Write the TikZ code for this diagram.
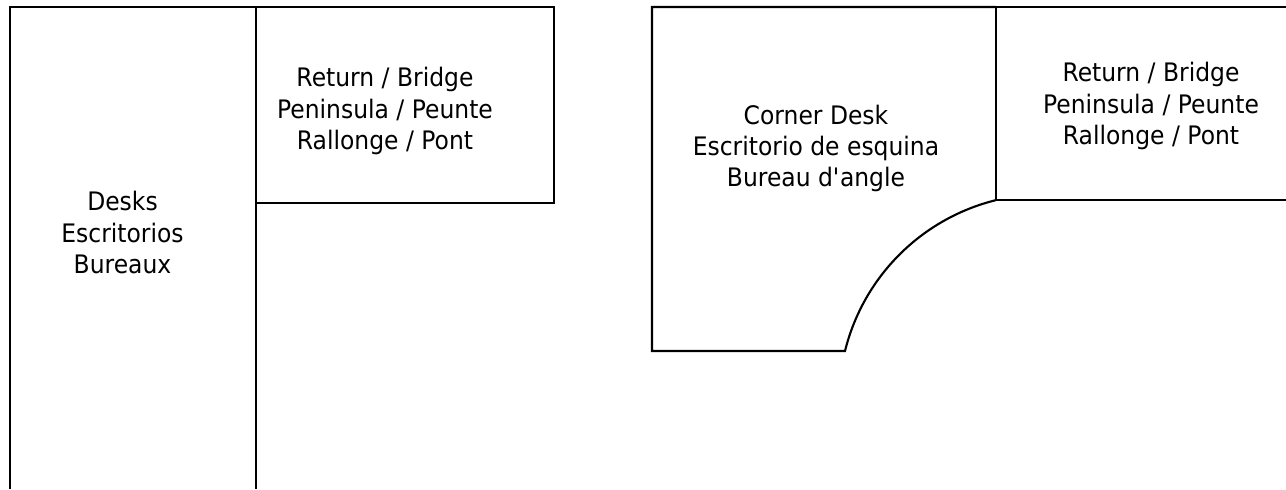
\documentclass[tikz,border=0pt]{standalone}
\usepackage{fontspec}
\setmainfont{DejaVu Sans}[FakeStretch=0.92]
\usepackage{tikz}

\begin{document}
\begin{tikzpicture}[edge/.style={line width=1.2pt, line join=miter},
        lbl/.style={align=center, inner sep=0pt, font=\fontsize{14.5}{17.9}\selectfont}]
		%\draw[help lines] (0,0) grid (26,10);
        \useasboundingbox (0,0) rectangle (25.72,9.78);

        % straight desk + return
        \draw[edge] (0.2,0) -- (0.2,9.64) -- (5.12,9.64) -- (5.12,0);
        \draw[edge] (5.12,9.64) -- (11.08,9.64) -- (11.08,5.72) -- (5.12,5.72);

        % corner desk + return
        \draw[edge] (19.92,9.64) -- (13.04,9.64) -- (13.04,2.76) -- (16.9,2.76)
            arc[start angle=166.1, end angle=103.9, radius=4.13];
        \draw[edge] (19.92,9.64) -- (19.92,5.78);
        \draw[edge] (19.92,9.64) -- (25.72,9.64);
        \draw[edge] (19.92,5.78) -- (25.72,5.78);

        \node[lbl] (desks) at (2.45,5.13){Desks\\Escritorios\\Bureaux};
        \node[lbl] (returnA) at (7.70,7.56){Return / Bridge\\Peninsula / Peunte\\Rallonge / Pont};
        \node[lbl] (corner) at (16.32,6.81){Corner Desk\\Escritorio de esquina\\Bureau d\textquotesingle angle};
        \node[lbl] (returnB) at (23.02,7.66){Return / Bridge\\Peninsula / Peunte\\Rallonge / Pont};

		\end{tikzpicture}
\end{document}
